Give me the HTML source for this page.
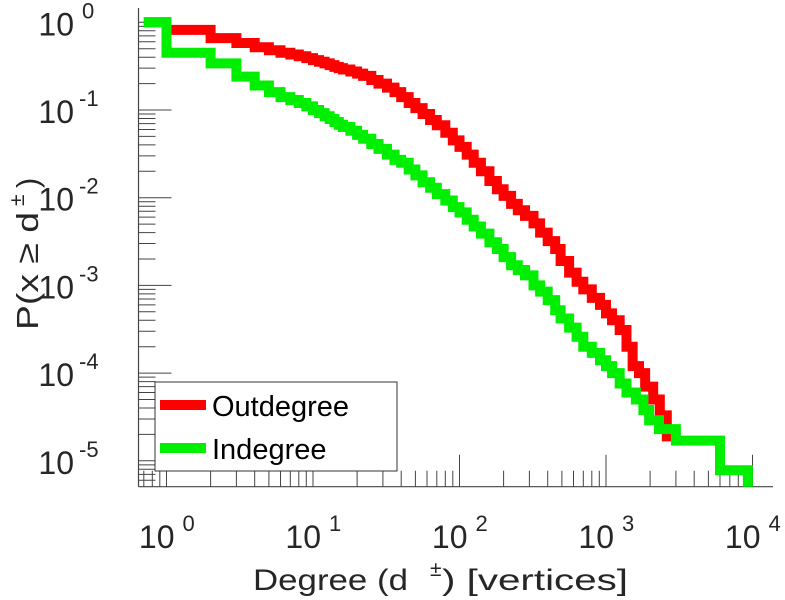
<!DOCTYPE html>
<html><head><meta charset="utf-8"><style>
body{margin:0;background:#fff}
svg{display:block;font-family:"Liberation Sans",sans-serif}
</style></head><body>
<svg id="chart" width="785" height="600" viewBox="0 0 785 600">
<g id="axes"></g>
<g id="series"></g>
<g id="legend">
<rect x="155" y="382" width="242" height="89" fill="#fff" stroke="#333" stroke-width="1"/>
<line x1="160" y1="405" x2="206" y2="405" stroke="#f00" stroke-width="10"/>
<text x="212" y="416" font-size="29" fill="#000">Outdegree</text>
<line x1="160" y1="448" x2="206" y2="448" stroke="#0e0" stroke-width="10"/>
<text x="212" y="459" font-size="29" fill="#000">Indegree</text>
</g>
<g fill="#262626">
<text x="253" y="590" font-size="30" textLength="155" lengthAdjust="spacingAndGlyphs">Degree (d</text>
<text x="430" y="576" font-size="21">±</text>
<text x="442" y="590" font-size="30" textLength="186" lengthAdjust="spacingAndGlyphs">) [vertices]</text>
</g>
<g transform="translate(38,330) rotate(-90)" fill="#262626">
<text x="0" y="0" font-size="31" textLength="118" lengthAdjust="spacingAndGlyphs">P(x ≥ d</text>
<text x="124" y="-14" font-size="21">±</text>
<text x="142" y="0" font-size="31">)</text>
</g>
</svg>
<script>
const outDeg = [0.7,1,2,3,4,5,6,7,8,9,10,11,12,13,14,15,16,18,20,22,25,28,32,36,40,45,50,56,63,70,80,90,100,112,125,140,160,180,200,225,250,280,320,355,400,450,490,560,630,700,800,910,1000,1100,1240,1380,1520,1680,1850,2100,2330,2600];
const outP   = [1,0.82,0.66,0.58,0.52,0.48,0.45,0.43,0.41,0.39,0.37,0.355,0.34,0.325,0.31,0.30,0.29,0.275,0.26,0.245,0.22,0.20,0.18,0.16,0.14,0.12,0.105,0.09,0.077,0.067,0.055,0.045,0.038,0.031,0.025,0.020,0.0155,0.0125,0.0105,0.0085,0.0072,0.0062,0.0051,0.0040,0.0032,0.0026,0.0019,0.0014,0.0011,0.0009,0.00072,0.0006,0.00048,0.0004,0.00031,0.0002,0.00012,0.0001,0.00007,0.00005,0.000033,0.000019];
const inDeg  = [0.7,1,2,3,4,5,6,7,8,9,10,11,12,13,14,15,16,18,20,22,25,28,32,36,40,45,50,56,63,70,80,90,100,112,125,140,160,180,200,225,250,280,320,355,400,450,490,560,630,700,800,910,1000,1100,1240,1380,1600,1800,1970,2300,3000,6000];
const inP    = [1,0.45,0.34,0.24,0.19,0.16,0.14,0.13,0.12,0.11,0.1,0.092,0.085,0.079,0.073,0.068,0.064,0.058,0.052,0.047,0.041,0.036,0.031,0.027,0.025,0.021,0.018,0.015,0.013,0.011,0.0093,0.0078,0.0068,0.0056,0.0047,0.0039,0.0031,0.0026,0.0021,0.0017,0.0015,0.0013,0.001,0.00085,0.00068,0.00052,0.00042,0.00033,0.00026,0.0002,0.00017,0.00014,0.00012,0.0001,0.000076,0.00006,0.00005,0.000038,0.000029,0.000023,0.000017,0.0000078];
const inEnd = 9300, outEnd = 2800;
const xTicks = [0,1,2,3,4];
const yTicks = [0,-1,-2,-3,-4,-5];

const NS="http://www.w3.org/2000/svg";
const X0=138.5, X1=773, Y0=486.7, Y1=8;
function xs(d){return 166.5+Math.log10(d)*146.5;}
function ys(p){return 22.3-Math.log10(p)*87.7;}
const axes=document.getElementById('axes');
function mk(tag,attrs,parent){const e=document.createElementNS(NS,tag);for(const k in attrs)e.setAttribute(k,attrs[k]);parent.appendChild(e);return e;}
let l=mk('line',{x1:X0,y1:Y0,x2:X1,y2:Y0,stroke:'#444','stroke-width':1.2},axes);


l=mk('line',{x1:X0,y1:Y0,x2:X0,y2:Y1,stroke:'#444','stroke-width':1.2},axes);


for(let e=-1;e<=4;e++){for(let m=1;m<=9;m++){const v=Math.pow(10,e)*m;const x=xs(v);if(x<X0||x>X1)continue;
 const t=mk('line',{x1:x,y1:Y0,x2:x,y2:Y0-(m==1?32:16),stroke:'#444','stroke-width':1},axes);
 
 }}
for(let e=-6;e<=0;e++){for(let m=1;m<=9;m++){const v=Math.pow(10,e)*m;const y=ys(v);if(y>Y0||y<Y1)continue;
 const t=mk('line',{x1:X0,y1:y,x2:X0+(m==1?33:17),y2:y,stroke:'#444','stroke-width':1},axes);
 
 }}
xTicks.forEach(e=>{const x=xs(Math.pow(10,e));
 const t=mk('text',{x:x+8,y:548,'font-size':32,fill:'#262626','text-anchor':'end'},axes);
 t.textContent='10';
 
 
 const s=mk('text',{x:x+16,y:531,'font-size':22,fill:'#262626'},axes);
 s.textContent=String(e);
 
 });
yTicks.forEach(e=>{const y=ys(Math.pow(10,e));
 const t=mk('text',{x:74,y:y+13,'font-size':32,fill:'#262626','text-anchor':'end'},axes);
 t.textContent='10';
 
 
 const s=mk('text',{x:e===0?82:79,y:y-4,'font-size':22,fill:'#262626'},axes);
 s.textContent=String(e);
 
 });
const ser=document.getElementById('series');
function stairs(deg,p,end,bottom){let d='M'+xs(deg[0])+','+ys(p[0]);
 for(let i=0;i<deg.length;i++){const nx=i<deg.length-1?deg[i+1]:end;d+=' L'+xs(nx)+','+ys(p[i]);
  if(i<deg.length-1)d+=' L'+xs(nx)+','+ys(p[i+1]);}
 if(bottom)d+=' L'+xs(end)+','+Y0;return d;}
let g=mk('path',{d:stairs(outDeg,outP,outEnd,false),fill:'none',stroke:'#f00','stroke-width':10,'stroke-linejoin':'miter'},ser);


g=mk('path',{d:stairs(inDeg,inP,inEnd,true),fill:'none',stroke:'#0e0','stroke-width':10,'stroke-linejoin':'miter'},ser);


</script>
</body></html>
